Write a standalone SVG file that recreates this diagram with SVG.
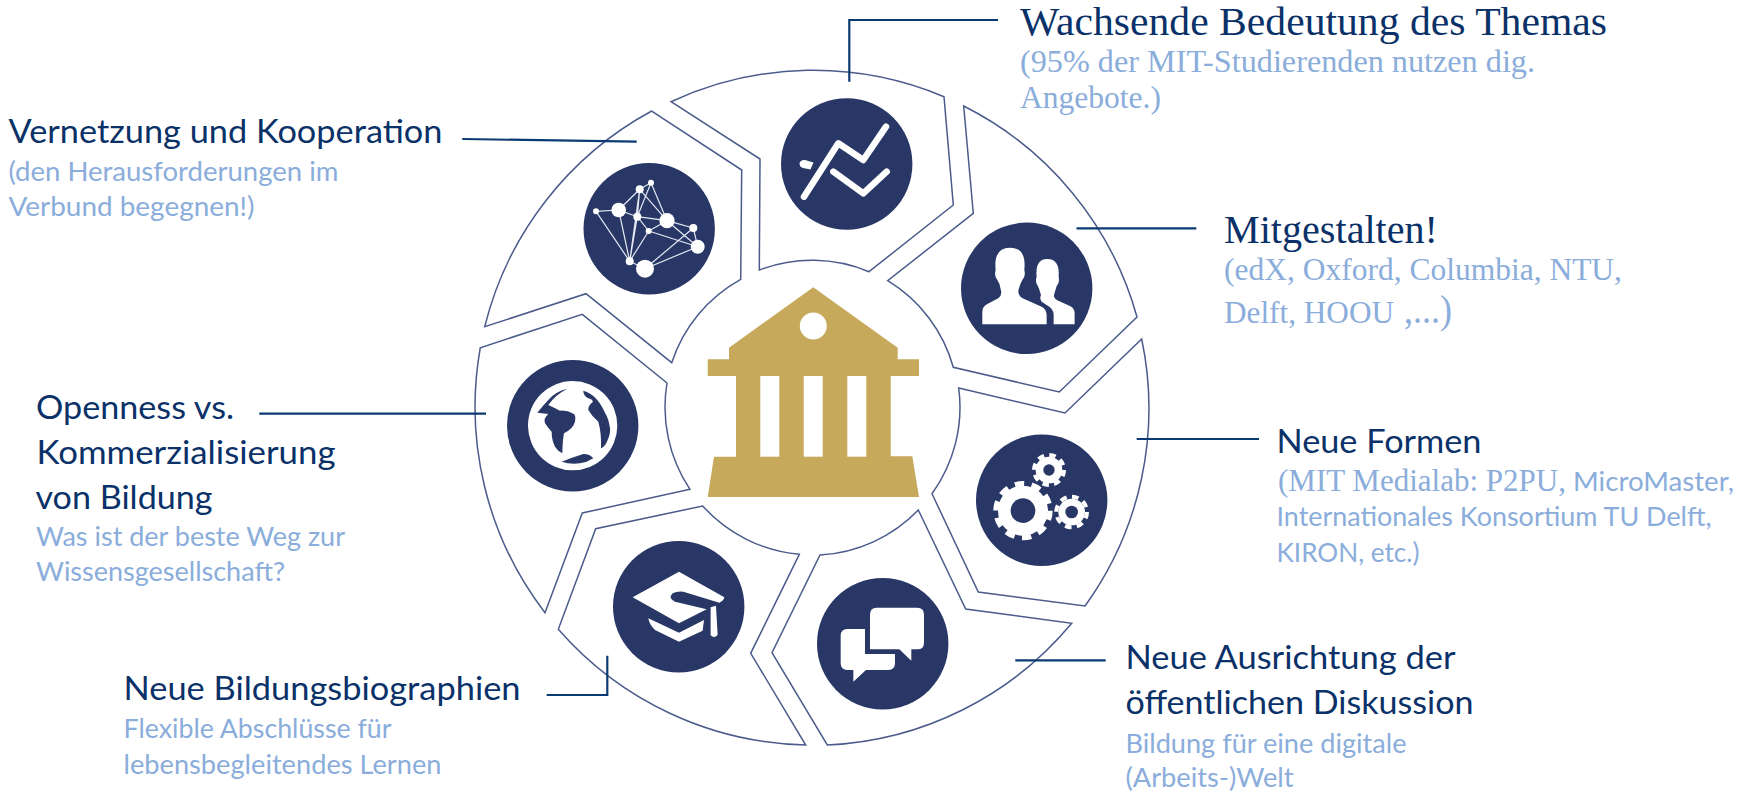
<svg xmlns="http://www.w3.org/2000/svg" width="1753" height="793" viewBox="0 0 1753 793">
<style>
.seg{fill:#fff;stroke:#4b5b8b;stroke-width:1.5;stroke-linejoin:miter}
.disc{fill:#283766}
.w{fill:#fff}
.n{fill:#283766}
.wl{fill:none;stroke:#fff;stroke-linecap:round;stroke-linejoin:round}
.net{stroke:#e4e8f2;stroke-width:1.2;fill:none}
.con{fill:none;stroke:#0b3a73;stroke-width:2.2}
text{dominant-baseline:alphabetic}
.h{font:33px Lato,"Open Sans",sans-serif;fill:#0a3168}
.s{font:26.5px Lato,"Open Sans",sans-serif;fill:#8aaddb}
.hs{font:41px "Liberation Serif","DejaVu Serif",serif;fill:#0a3168}
.ss{font:31px "Liberation Serif","DejaVu Serif",serif;fill:#8aaddb}
</style>
<rect width="1753" height="793" fill="#fff"/>

<g id="node-wachsende">
<path class="seg" d="M671 101.7A337.5 337.5 0 0 1 944 96.7L953.3 205L869 271.7A147.5 147.5 0 0 0 759.3 270L760 159Z"/>
<circle class="disc" cx="846.7" cy="164" r="65.7"/>
<polyline class="wl" stroke-width="6.5" points="804,196.7 838.3,143.3 863.3,160 886,126.7"/>
<polyline class="wl" stroke-width="6.5" points="833.3,171.7 863.3,193.3 886.7,171.7"/>
<path class="w" d="M799.5 163Q801 159.5 805 160L813.5 162.5L810.5 169.5L803 168Q799.5 167 799.5 163Z"/>
<text class="hs" x="1020" y="35" textLength="587" lengthAdjust="spacingAndGlyphs">Wachsende Bedeutung des Themas</text>
<text class="ss" x="1020" y="71.7" textLength="515" lengthAdjust="spacingAndGlyphs">(95% der MIT-Studierenden nutzen dig.</text>
<text class="ss" x="1020" y="108" textLength="141" lengthAdjust="spacingAndGlyphs">Angebote.)</text>
</g>

<g id="node-mitgestalten">
<path class="seg" d="M963.7 106A337.5 337.5 0 0 1 1137 317L1059.3 392L953.3 367.3A147.5 147.5 0 0 0 887.7 280.7L973.3 213.3Z"/>
<circle class="disc" cx="1026.7" cy="288.3" r="65.7"/>
<g transform="translate(780 80) scale(.3333)">
<path class="w" d="M821 733V705Q821 690 808 680L785 665Q778 655 783 645Q778 625 772 615Q765 605 770 590Q765 537 802 537Q840 537 836 590Q840 605 830 618Q825 635 822 645Q820 655 835 662L870 678Q884 685 884 700V733Z"/>
<path class="w" stroke="#283766" stroke-width="12" paint-order="stroke" d="M607 733V695Q607 680 622 672L655 655Q668 645 662 628Q660 610 652 600Q642 590 647 570Q640 503 690 503Q740 503 733 570Q738 590 727 600Q720 612 716 628Q712 645 728 655L785 680Q800 688 800 705V733Z"/>
</g>
<text class="hs" x="1224" y="242.7" textLength="214" lengthAdjust="spacingAndGlyphs">Mitgestalten!</text>
<text class="ss" x="1224" y="280" textLength="398" lengthAdjust="spacingAndGlyphs">(edX, Oxford, Columbia, NTU,</text>
<text class="ss" x="1224" y="322.7"><tspan textLength="170" lengthAdjust="spacingAndGlyphs">Delft, HOOU</tspan><tspan x="1404" font-size="39" textLength="48" lengthAdjust="spacingAndGlyphs">,...)</tspan></text>
</g>

<g id="node-formen">
<path class="seg" d="M1141.7 339A337.5 337.5 0 0 1 1085 606L978.3 592L932 493.7A147.5 147.5 0 0 0 958.7 388L1065 413Z"/>
<circle class="disc" cx="1041.7" cy="500.3" r="65.7"/>
<g transform="translate(920 320) scale(.3333)">
<circle class="w" cx="309" cy="572" r="75"/>
<circle cx="309" cy="572" r="81" fill="none" stroke="#fff" stroke-width="16" pathLength="90" stroke-dasharray="5 4"/>
<circle class="n" cx="309" cy="572" r="37"/>
<circle class="w" cx="387" cy="450" r="40"/>
<circle cx="387" cy="450" r="45" fill="none" stroke="#fff" stroke-width="12" pathLength="80" stroke-dasharray="5.5 4.5"/>
<circle class="n" cx="387" cy="450" r="17"/>
<circle class="w" cx="455" cy="576" r="40"/>
<circle cx="455" cy="576" r="46" fill="none" stroke="#fff" stroke-width="12" pathLength="80" stroke-dasharray="5.5 4.5"/>
<circle class="n" cx="455" cy="576" r="19"/>
</g>
<text class="h" x="1276.5" y="453" textLength="205" lengthAdjust="spacingAndGlyphs">Neue Formen</text>
<text class="ss" x="1278" y="490.7" textLength="288" lengthAdjust="spacingAndGlyphs">(MIT Medialab: P2PU,</text>
<text class="s" x="1573" y="490.7" textLength="161" lengthAdjust="spacingAndGlyphs">MicroMaster,</text>
<text class="s" x="1276.5" y="525.7" textLength="435" lengthAdjust="spacingAndGlyphs">Internationales Konsortium TU Delft,</text>
<text class="s" x="1276.5" y="561.7" textLength="143" lengthAdjust="spacingAndGlyphs">KIRON, etc.)</text>
</g>

<g id="node-ausrichtung">
<path class="seg" d="M1071.7 623.3A337.5 337.5 0 0 1 827.3 745L772 652.7L820 555A147.5 147.5 0 0 0 918.3 510L965.7 609Z"/>
<circle class="disc" cx="882.7" cy="643.7" r="65.7"/>
<g transform="translate(740 520) scale(.3333)">
<path class="w" d="M410 263H532Q552 263 552 283V368Q552 388 532 388H514V422L478 388H390V283Q390 263 410 263Z"/>
<path class="w" d="M322 327H375V402H465V430Q465 450 445 450H378L340 485V450H322Q302 450 302 430V347Q302 327 322 327Z"/>
</g>
<text class="h" x="1125.5" y="669" textLength="330" lengthAdjust="spacingAndGlyphs">Neue Ausrichtung der</text>
<text class="h" x="1125.5" y="714" textLength="348" lengthAdjust="spacingAndGlyphs">öffentlichen Diskussion</text>
<text class="s" x="1125.5" y="752.7" textLength="281" lengthAdjust="spacingAndGlyphs">Bildung für eine digitale</text>
<text class="s" x="1125.5" y="786.7" textLength="168" lengthAdjust="spacingAndGlyphs">(Arbeits-)Welt</text>
</g>

<g id="node-bildung">
<path class="seg" d="M805.7 745A337.5 337.5 0 0 1 558.3 629.3L595.7 528.7L702.7 506A147.5 147.5 0 0 0 799.3 554.3L750.7 653.3Z"/>
<circle class="disc" cx="678.7" cy="606.7" r="65.7"/>
<g transform="translate(530 540) scale(.3333)">
<path class="w" d="M308 172L447 95L583 172Q582 182 568 188L470 158Q448 150 428 160Q413 175 435 185L530 208L447 250Z"/>
<path class="w" d="M355 235L447 278L522 240L518 272L447 305L375 270Q358 255 355 235Z"/>
<path class="w" d="M542 202L558 197L563 285Q552 296 542 286Z"/>
</g>
<text class="h" x="123.5" y="700" textLength="397" lengthAdjust="spacingAndGlyphs">Neue Bildungsbiographien</text>
<text class="s" x="123.5" y="738.3" textLength="268" lengthAdjust="spacingAndGlyphs">Flexible Abschlüsse für</text>
<text class="s" x="123.5" y="774" textLength="318" lengthAdjust="spacingAndGlyphs">lebensbegleitendes Lernen</text>
</g>

<g id="node-openness">
<path class="seg" d="M545 612.7A337.5 337.5 0 0 1 480.3 347.7L582.3 314.3L667 383A147.5 147.5 0 0 0 690 489.3L582.3 513Z"/>
<circle class="disc" cx="572.7" cy="425.7" r="65.7"/>
<g transform="translate(420 290) scale(.3333)">
<circle class="w" cx="458" cy="407" r="134"/>
<path class="n" d="M442 296Q405 305 385 330Q368 348 352 368L385 372Q370 385 375 400Q385 415 395 425Q395 450 405 470Q415 485 427 490Q428 450 432 430Q460 415 465 395Q468 378 462 372Q440 360 420 362Q400 352 385 345Q405 315 442 296Z"/>
<path class="n" d="M490 302Q490 318 505 325Q520 328 518 337Q505 345 505 360Q515 378 535 395Q545 430 543 475Q556 470 563 450Q572 430 570 415Q566 385 555 368Q542 340 527 325Q512 308 490 302Z"/>
<path class="n" d="M425 515Q450 505 490 492Q510 492 520 505Q500 518 480 520Q450 524 425 515Z"/>
</g>
<text class="h" x="36" y="419" textLength="198" lengthAdjust="spacingAndGlyphs">Openness vs.</text>
<text class="h" x="36.5" y="464" textLength="299" lengthAdjust="spacingAndGlyphs">Kommerzialisierung</text>
<text class="h" x="35.5" y="508.7" textLength="177" lengthAdjust="spacingAndGlyphs">von Bildung</text>
<text class="s" x="36" y="546" textLength="309" lengthAdjust="spacingAndGlyphs">Was ist der beste Weg zur</text>
<text class="s" x="36" y="580.7" textLength="249" lengthAdjust="spacingAndGlyphs">Wissensgesellschaft?</text>
</g>

<g id="node-vernetzung">
<path class="seg" d="M484.7 326.7A337.5 337.5 0 0 1 651.7 111L741.7 170L740.7 279.3A147.5 147.5 0 0 0 671.7 362.7L586 293.7Z"/>
<circle class="disc" cx="649.2" cy="228.8" r="65.7"/>
<path class="net" d="M596 211.3L618.7 210M596 211.3L629.7 261.3M618.7 210L639.7 189.3M618.7 210L637.3 216.7M618.7 210L629.7 261.3M639.7 189.3L651 182.7M639.7 189.3L637.3 216.7M639.7 189.3L667 220.7M639.7 189.3L629.7 261.3M651 182.7L637.3 216.7M651 182.7L667 220.7M637.3 216.7L667 220.7M637.3 216.7L648.7 231M637.3 216.7L629.7 261.3M648.7 231L629.7 261.3M648.7 231L667 220.7M648.7 231L697.7 246.7M667 220.7L693.3 228M667 220.7L697.7 246.7M693.3 228L697.7 246.7M693.3 228L645 268.7M645 268.7L697.7 246.7M629.7 261.3L645 268.7"/>
<g class="w">
<circle cx="596" cy="211.3" r="3"/><circle cx="618.7" cy="210" r="7.3"/><circle cx="639.7" cy="189.3" r="4"/><circle cx="651" cy="182.7" r="3"/><circle cx="637.3" cy="216.7" r="4"/><circle cx="667" cy="220.7" r="7.6"/><circle cx="648.7" cy="231" r="3"/><circle cx="693.3" cy="228" r="4"/><circle cx="697.7" cy="246.7" r="7"/><circle cx="629.7" cy="261.3" r="4"/><circle cx="645" cy="268.7" r="9"/>
</g>
<text class="h" x="8.5" y="143.3" textLength="434" lengthAdjust="spacingAndGlyphs">Vernetzung und Kooperation</text>
<text class="s" x="8.5" y="180.7" textLength="330" lengthAdjust="spacingAndGlyphs">(den Herausforderungen im</text>
<text class="s" x="8.5" y="215.7" textLength="246" lengthAdjust="spacingAndGlyphs">Verbund begegnen!)</text>
</g>

<g id="node-center">
<path fill="#c6a95b" d="M813.3 287.3L729 347.7V359.3H707.7V376H736V456.7H714L707.7 497H919L912.3 456.3H890.7V376H919V359.3H897.7V347.7Z"/>
<g class="w">
<circle cx="813.3" cy="326" r="13.5"/>
<rect x="760.3" y="376" width="19" height="80.7"/><rect x="803.7" y="376" width="19" height="80.7"/><rect x="847.3" y="376" width="19" height="80.7"/>
</g>
</g>

<g id="connectors" class="con">
<path d="M462.3 139L636.7 141.7"/>
<path d="M998 20H849.3V81.7"/>
<path d="M1076.5 228.3H1196.3"/>
<path d="M259.3 413.7H486"/>
<path d="M1136.7 439H1259"/>
<path d="M1015.3 660.3H1105.7"/>
<path d="M546.7 695H607.3V655.7"/>
</g>
</svg>
